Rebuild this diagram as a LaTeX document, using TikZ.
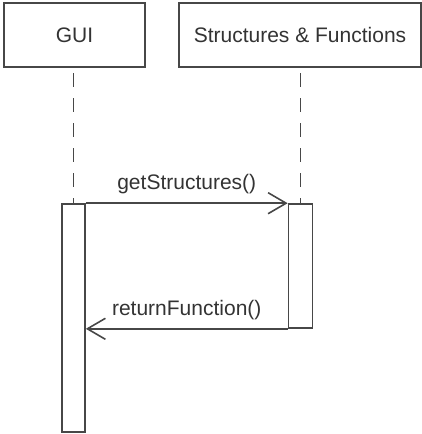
\documentclass[tikz,border=0pt]{standalone}
\usepackage{fontspec}
\setmainfont{Liberation Sans}
\usetikzlibrary{arrows.meta}
\begin{document}
\begin{tikzpicture}[x=1pt,y=-1pt,
  edge/.style={draw=black!72, line width=1.6pt},
  objbox/.style={edge, fill=white, inner sep=0pt, font=\fontsize{21}{25}\selectfont, text=black!80},
  actbox/.style={edge, fill=white, inner sep=0pt},
  life/.style={draw=black!72, line width=1.6pt, dash pattern=on 14pt off 11pt},
  msg/.style={draw=black!72, line width=1.6pt, -{Straight Barb[length=18pt,width=21pt,line width=1.6pt]}},
  lbl/.style={font=\fontsize{21}{25}\selectfont, text=black!80, inner sep=0pt}]
\useasboundingbox (0,0) rectangle (422,434);
\node[objbox, minimum width=141pt, minimum height=64pt] (gui) at (74.5,35) {GUI};
\node[objbox, minimum width=242pt, minimum height=64pt] (sf) at (300,35) {Structures \& Functions};
\node[actbox, minimum width=23pt, minimum height=228pt] (ga) at (73.5,318) {};
\node[actbox, minimum width=24pt, minimum height=124pt] (sa) at (300.5,266) {};
\coordinate (g1) at (73.5,73);
\coordinate (s1) at (300.5,73);
\draw[life] (g1) -- (ga.north);
\draw[life] (s1) -- (sa.north);
\draw[msg] (ga.north east) -- node[lbl, above=9pt] {getStructures()} (sa.north west);
\draw[msg] (sa.south west) -- node[lbl, above=8pt] {returnFunction()} (sa.south west -| ga.east);
\end{tikzpicture}
\end{document}
